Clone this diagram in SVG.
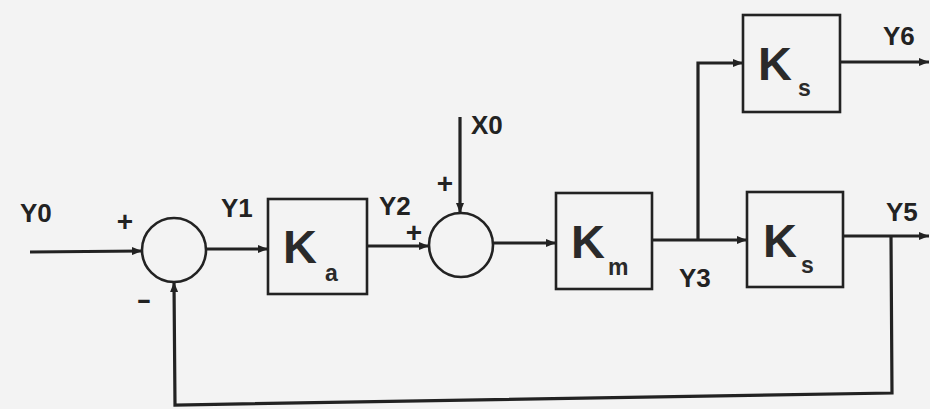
<svg xmlns="http://www.w3.org/2000/svg" width="930" height="409" viewBox="0 0 930 409">
<defs>
<style>
.ln{fill:none;stroke:#222;stroke-width:3.2;stroke-linejoin:miter}
.bx{fill:none;stroke:#222;stroke-width:2.6}
.sum{fill:none;stroke:#222;stroke-width:2.6}
.lb{font-family:"Liberation Sans",Arial,sans-serif;font-weight:bold;font-size:26px;fill:#222}
.k{font-family:"Liberation Sans",Arial,sans-serif;font-weight:bold;font-size:47px;fill:#2a2a2a}
.sub{font-family:"Liberation Sans",Arial,sans-serif;font-weight:bold;font-size:23px;fill:#2a2a2a}
.sg{font-family:"Liberation Sans",Arial,sans-serif;font-weight:bold;font-size:28px;fill:#222;text-anchor:middle}
</style>
<marker id="ar" viewBox="0 0 10 8" refX="10" refY="4" markerWidth="10" markerHeight="8" markerUnits="userSpaceOnUse" orient="auto">
<path d="M0,0 L10,4 L0,8 Z" fill="#222"/>
</marker>
</defs>
<rect x="0" y="0" width="930" height="409" fill="#f3f3f3"/>
<g id="connectors">
<polyline class="ln" points="30,252 142,251" marker-end="url(#ar)"/>
<polyline class="ln" points="207,249 268,249" marker-end="url(#ar)"/>
<polyline class="ln" points="367,246 429,246" marker-end="url(#ar)"/>
<polyline class="ln" points="460,117 460,213" marker-end="url(#ar)"/>
<polyline class="ln" points="494,243 556,243" marker-end="url(#ar)"/>
<polyline class="ln" points="652,240 747,240" marker-end="url(#ar)"/>
<polyline class="ln" points="698,240 698,63 743,63" marker-end="url(#ar)"/>
<polyline class="ln" points="840,62 929,62" marker-end="url(#ar)"/>
<polyline class="ln" points="843,236 929,236" marker-end="url(#ar)"/>
<polyline class="ln" points="891,236 892,393 175,405 174,282" marker-end="url(#ar)"/>
</g>
<g id="sum1">
<circle class="sum" cx="174" cy="250" r="32"/>
<text class="sg" x="125" y="231">+</text>
<text class="sg" x="144" y="309" transform="translate(144 0) scale(1.6 1) translate(-144 0)">-</text>
</g>
<g id="sum2">
<circle class="sum" cx="461" cy="245" r="32"/>
<text class="sg" x="414" y="242">+</text>
<text class="sg" x="445" y="193">+</text>
</g>
<g id="Ka">
<rect class="bx" x="268" y="199" width="99" height="95"/>
<text class="k" x="283" y="263">K</text>
<text class="sub" x="325" y="281">a</text>
</g>
<g id="Km">
<rect class="bx" x="556" y="193" width="96" height="96"/>
<text class="k" x="571" y="258">K</text>
<text class="sub" x="608" y="275">m</text>
</g>
<g id="Ks1">
<rect class="bx" x="743" y="15" width="97" height="97"/>
<text class="k" x="758" y="80">K</text>
<text class="sub" x="798" y="96">s</text>
</g>
<g id="Ks2">
<rect class="bx" x="747" y="192" width="96" height="95"/>
<text class="k" x="763" y="257">K</text>
<text class="sub" x="801" y="273">s</text>
</g>
<g id="labels">
<text class="lb" x="20" y="222">Y0</text>
<text class="lb" x="221" y="217">Y1</text>
<text class="lb" x="379" y="215">Y2</text>
<text class="lb" x="471" y="134">X0</text>
<text class="lb" x="679" y="287">Y3</text>
<text class="lb" x="883" y="45">Y6</text>
<text class="lb" x="886" y="221">Y5</text>
</g>
</svg>
